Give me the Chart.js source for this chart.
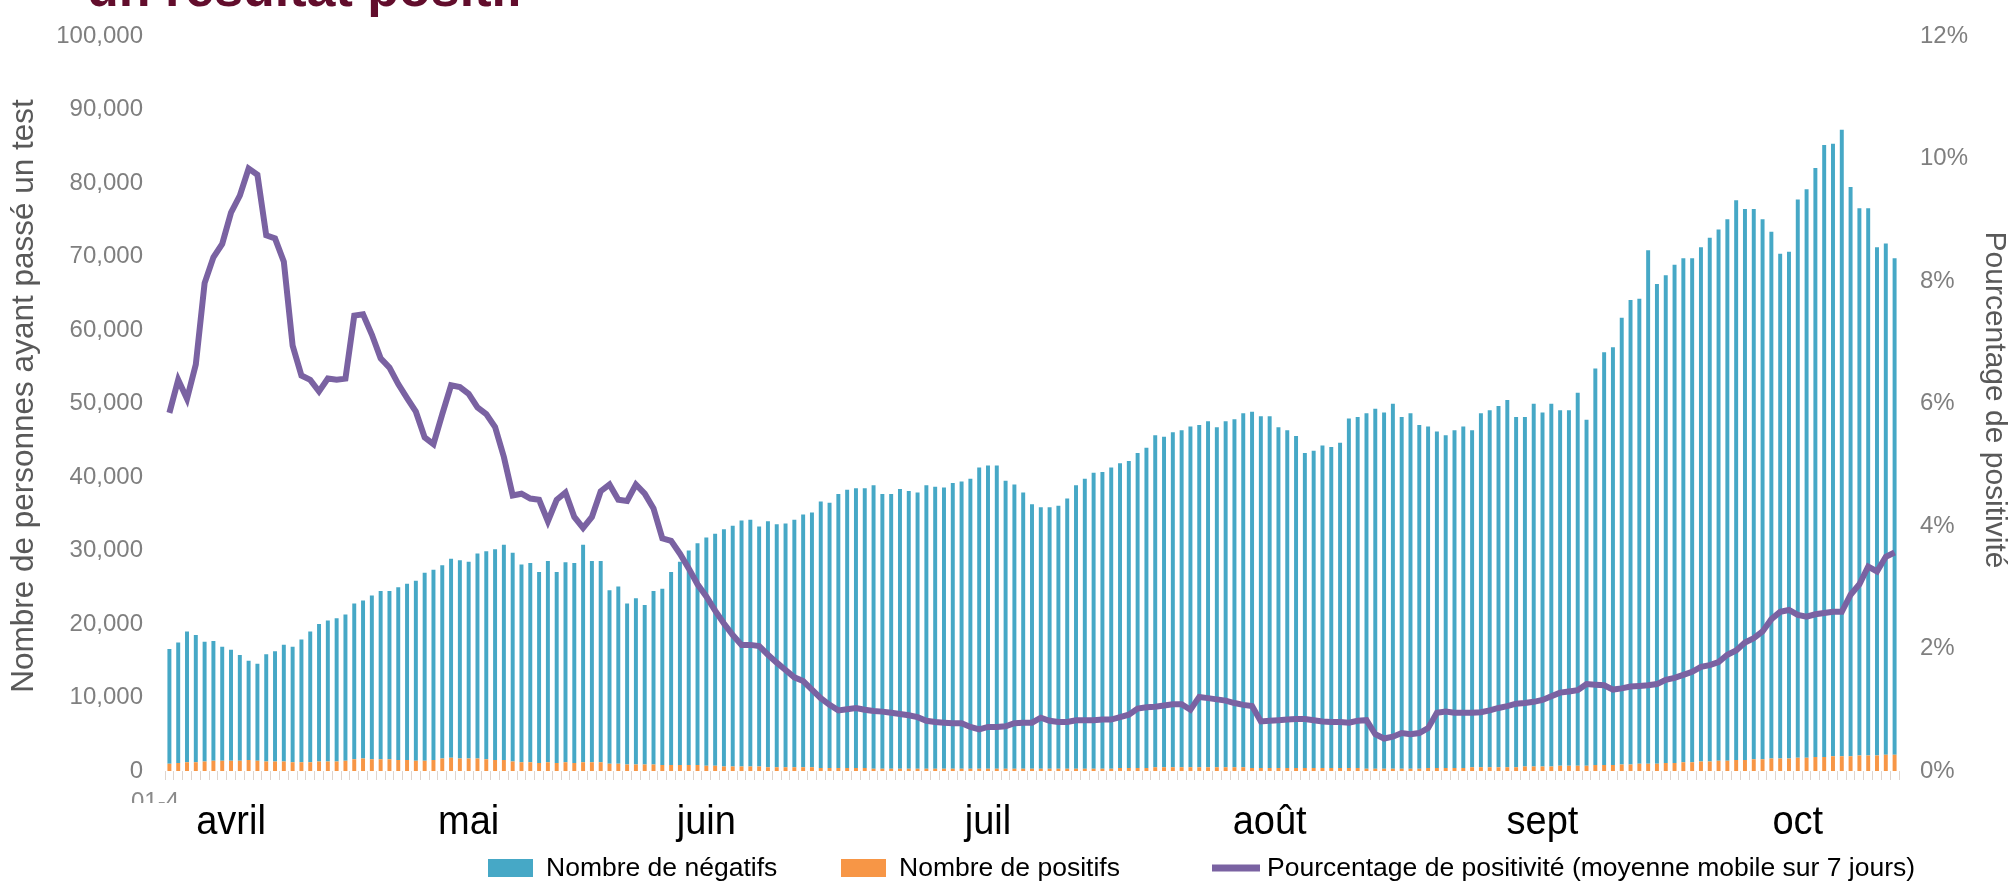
<!DOCTYPE html>
<html lang="fr">
<head>
<meta charset="utf-8">
<title>Personnes ayant passé un test</title>
<script src="https://cdn.jsdelivr.net/npm/chart.js@4.4.0/dist/chart.umd.min.js"></script>
<style>
  html, body { margin: 0; padding: 0; background: #fff; }
  #zone { position: relative; width: 2013px; height: 885px; }
</style>
</head>
<body>
<div id="zone"><canvas id="graphique" width="2013" height="885"></canvas></div>
<script>
    // jours du 1er avril au 14 octobre
    const moisDuGraphique = [["04", 30], ["05", 31], ["06", 30], ["07", 31], ["08", 31], ["09", 30], ["10", 14]];
    let jours = [];
    moisDuGraphique.forEach(([mois, n]) => {
      for (let j = 1; j <= n; j++) jours.push(String(j).padStart(2, "0") + "-" + mois);
    });

    const etiquettesMois = ["avril", "mai", "juin", "juil", "août", "sept", "oct"];
    const joursEtiquettes = ["08-04", "05-05", "01-06", "03-07", "04-08", "04-09", "03-10"];

    const negatifs = [
      15600, 16400, 17800, 17300, 16300, 16300, 15500, 15100, 14400, 13500,
      13200, 14600, 15000, 15900, 15700, 16700, 17800, 18700, 19200, 19500,
      19900, 21200, 21500, 22300, 22900, 22900, 23500, 24000, 24500, 25600,
      25900, 26300, 27100, 27000, 26800, 27900, 28300, 28700, 29300, 28400,
      26900, 27100, 26000, 27400, 26000, 27200, 27200, 29600, 27400, 27400,
      23600, 24100, 21900, 22600, 21700, 23600, 24000, 26300, 27700, 29200,
      30200, 31100, 31600, 32300, 32800, 33500, 33600, 32700, 33500, 33100,
      33200, 33700, 34400, 34700, 36300, 36100, 37300, 37900, 38100, 38100,
      38600, 37400, 37400, 38100, 37800, 37600, 38600, 38400, 38300, 38900,
      39100, 39500, 41000, 41300, 41300, 39200, 38700, 37600, 36000, 35600,
      35600, 35800, 36800, 38600, 39500, 40300, 40400, 41000, 41500, 41800,
      42900, 43600, 45200, 45000, 45600, 45900, 46400, 46600, 47100, 46300,
      47100, 47400, 48200, 48500, 47900, 47900, 46400, 46000, 45200, 42900,
      43200, 43900, 43700, 44300, 47600, 47800, 48400, 49000, 48500, 49700,
      47900, 48400, 46800, 46500, 45800, 45300, 46000, 46500, 45900, 48200,
      48600, 49200, 50000, 47700, 47600, 49400, 48200, 49400, 48400, 48400,
      50800, 47100, 54000, 56200, 56900, 60800, 63200, 63300, 69900, 65300,
      66400, 67800, 68600, 68600, 70000, 71300, 72300, 73700, 76200, 75000,
      74900, 73500, 71700, 68700, 69000, 76000, 77400, 80200, 83300, 83400,
      85300, 77500, 74500, 74500, 69200, 69600, 67600
    ];

    const positifs = [
      1000, 1100, 1200, 1200, 1300, 1400, 1400, 1400, 1400, 1500,
      1400, 1300, 1300, 1300, 1200, 1200, 1200, 1300, 1300, 1300,
      1400, 1600, 1700, 1600, 1600, 1600, 1500, 1500, 1400, 1400,
      1500, 1700, 1800, 1700, 1700, 1700, 1600, 1500, 1500, 1300,
      1200, 1200, 1100, 1200, 1100, 1200, 1100, 1200, 1200, 1200,
      1000, 1000, 900, 900, 900, 900, 800, 800, 800, 800,
      800, 700, 700, 600, 600, 600, 600, 600, 500, 500,
      500, 500, 500, 500, 400, 400, 400, 400, 400, 400,
      300, 300, 300, 300, 300, 300, 300, 300, 300, 300,
      300, 300, 300, 300, 300, 300, 300, 300, 300, 300,
      300, 300, 300, 300, 300, 300, 300, 300, 400, 400,
      400, 400, 500, 500, 500, 500, 500, 500, 500, 500,
      500, 500, 500, 400, 400, 400, 400, 400, 400, 400,
      400, 400, 400, 400, 400, 400, 300, 300, 300, 300,
      300, 300, 300, 400, 400, 400, 400, 400, 500, 500,
      500, 500, 500, 500, 600, 600, 600, 600, 700, 700,
      700, 700, 800, 800, 800, 900, 900, 1000, 1000, 1000,
      1100, 1100, 1200, 1200, 1300, 1300, 1400, 1400, 1500, 1500,
      1600, 1600, 1700, 1700, 1700, 1800, 1800, 1900, 1900, 2000,
      2000, 2000, 2100, 2100, 2100, 2200, 2200
    ];

    // pourcentage de positivité, moyenne mobile sur 7 jours
    const positivite = [
      5.85, 6.39, 6.08, 6.64, 7.97, 8.39, 8.61, 9.12, 9.40, 9.84,
      9.74, 8.75, 8.70, 8.32, 6.95, 6.46, 6.39, 6.20, 6.41, 6.39,
      6.41, 7.44, 7.46, 7.13, 6.74, 6.59, 6.32, 6.09, 5.87, 5.45,
      5.34, 5.83, 6.30, 6.27, 6.16, 5.94, 5.83, 5.62, 5.13, 4.50,
      4.53, 4.45, 4.43, 4.08, 4.43, 4.55, 4.15, 3.97, 4.15, 4.57,
      4.68, 4.43, 4.41, 4.68, 4.53, 4.29, 3.80, 3.76, 3.55, 3.31,
      3.05, 2.85, 2.62, 2.41, 2.22, 2.06, 2.06, 2.04, 1.90, 1.77,
      1.65, 1.53, 1.47, 1.33, 1.19, 1.08, 0.99, 1.01, 1.03, 1.00,
      0.98, 0.97, 0.95, 0.93, 0.91, 0.88, 0.82, 0.80, 0.79, 0.78,
      0.78, 0.72, 0.68, 0.72, 0.72, 0.73, 0.78, 0.79, 0.79, 0.87,
      0.82, 0.80, 0.80, 0.83, 0.83, 0.83, 0.84, 0.84, 0.88, 0.92,
      1.02, 1.04, 1.05, 1.07, 1.09, 1.09, 1.00, 1.21, 1.19, 1.17,
      1.15, 1.11, 1.08, 1.06, 0.81, 0.82, 0.83, 0.84, 0.85, 0.85,
      0.83, 0.81, 0.80, 0.80, 0.79, 0.82, 0.83, 0.60, 0.53, 0.56,
      0.62, 0.60, 0.62, 0.70, 0.95, 0.97, 0.95, 0.95, 0.95, 0.96,
      0.99, 1.03, 1.06, 1.10, 1.11, 1.13, 1.16, 1.22, 1.28, 1.30,
      1.32, 1.42, 1.41, 1.40, 1.33, 1.35, 1.38, 1.39, 1.40, 1.42,
      1.49, 1.52, 1.57, 1.62, 1.70, 1.73, 1.78, 1.90, 1.97, 2.10,
      2.17, 2.28, 2.48, 2.60, 2.63, 2.55, 2.52, 2.56, 2.58, 2.60,
      2.60, 2.88, 3.05, 3.34, 3.26, 3.50, 3.57
    ];

    const police = "'Liberation Sans', Arial, sans-serif";

    // textes dessinés à la main : titre coupé, mois, titres d'axes, légende
    const decor = {
      id: "decor",
      afterDraw(chart) {
        let ctx = chart.ctx;
        let axeX = chart.scales.x;
        ctx.save();

        ctx.fillStyle = "#620d2c";
        ctx.font = "bold 52px " + police;
        ctx.textAlign = "left";
        ctx.textBaseline = "alphabetic";
        ctx.fillText("un résultat positif", 87, 6);

        // reste de l'ancienne étiquette de date, à moitié cachée
        ctx.save();
        ctx.beginPath();
        ctx.rect(100, 775, 80, 28);
        ctx.clip();
        ctx.fillStyle = "#8a8a8a";
        ctx.font = "24px " + police;
        ctx.fillText("01-4", 131, 809);
        ctx.restore();

        ctx.fillStyle = "#000";
        ctx.font = "40px " + police;
        ctx.textAlign = "center";
        etiquettesMois.forEach((m, i) => {
          let px = axeX.getPixelForValue(jours.indexOf(joursEtiquettes[i]));
          ctx.save();
          ctx.translate(px, 834);
          ctx.scale(0.95, 1);
          ctx.fillText(m, 0, 0);
          ctx.restore();
        });

        ctx.fillStyle = "#595959";
        ctx.textBaseline = "middle";
        ctx.font = "31.5px " + police;
        ctx.save();
        ctx.translate(24, 396);
        ctx.rotate(-Math.PI / 2);
        ctx.fillText("Nombre de personnes ayant passé un test", 0, 0);
        ctx.restore();
        ctx.font = "30px " + police;
        ctx.save();
        ctx.translate(1994, 400);
        ctx.rotate(Math.PI / 2);
        ctx.fillText("Pourcentage de positivité", 0, 0);
        ctx.restore();

        // légende
        let ordre = [1, 2, 0];
        let debuts = [488, 841, 1212];
        let y = 868;
        ctx.font = "26.5px " + police;
        ctx.textAlign = "left";
        ctx.textBaseline = "middle";
        ordre.forEach((i, k) => {
          let ds = chart.data.datasets[i];
          let x = debuts[k];
          if (ds.type === "line") {
            ctx.strokeStyle = ds.borderColor;
            ctx.lineWidth = 7;
            ctx.beginPath();
            ctx.moveTo(x, y);
            ctx.lineTo(x + 48, y);
            ctx.stroke();
            x += 55;
          } else {
            ctx.fillStyle = ds.backgroundColor;
            ctx.fillRect(x, y - 9, 45, 18);
            x += 58;
          }
          ctx.fillStyle = "#000";
          ctx.fillText(ds.label, x, y + 1);
        });

        ctx.restore();
      }
    };

    let grafico = new Chart(document.getElementById("graphique").getContext("2d"), {
      data: {
        labels: jours,
        datasets: [
          {
            type: "line",
            label: "Pourcentage de positivité (moyenne mobile sur 7 jours)",
            data: positivite,
            yAxisID: "y2",
            borderColor: "#7a62a2",
            borderWidth: 6,
            pointRadius: 0,
            tension: 0,
            order: 0
          },
          {
            type: "bar",
            label: "Nombre de négatifs",
            data: negatifs,
            backgroundColor: "#46a8c6",
            barPercentage: 0.45,
            categoryPercentage: 1,
            order: 2
          },
          {
            type: "bar",
            label: "Nombre de positifs",
            data: positifs,
            backgroundColor: "#f79646",
            barPercentage: 0.45,
            categoryPercentage: 1,
            order: 1
          }
        ]
      },
      options: {
        responsive: false,
        animation: false,
        layout: { padding: { top: 28, left: 0, right: 0, bottom: 0 } },
        plugins: {
          legend: { display: false },
          tooltip: { enabled: false }
        },
        scales: {
          x: {
            stacked: true,
            ticks: { display: false, autoSkip: false },
            grid: { display: true, drawOnChartArea: false, drawTicks: true, tickLength: 9, color: "rgba(210,195,185,0.7)" },
            border: { display: false },
            afterFit(s) { s.height = 114; }
          },
          y: {
            position: "left",
            stacked: true,
            min: 0,
            max: 100000,
            ticks: {
              stepSize: 10000,
              padding: 22,
              color: "#7f7f7f",
              font: { family: police, size: 24 },
              callback: v => v.toLocaleString("en-US")
            },
            grid: { display: false, drawTicks: false },
            border: { display: false },
            afterFit(s) { s.width = 165; }
          },
          y2: {
            position: "right",
            min: 0,
            max: 12,
            ticks: {
              stepSize: 2,
              padding: 21,
              color: "#7f7f7f",
              font: { family: police, size: 24 },
              callback: v => v + "%"
            },
            grid: { display: false, drawTicks: false },
            border: { display: false },
            afterFit(s) { s.width = 114; }
          }
        }
      },
      plugins: [decor]
    });
</script>
</body>
</html>
